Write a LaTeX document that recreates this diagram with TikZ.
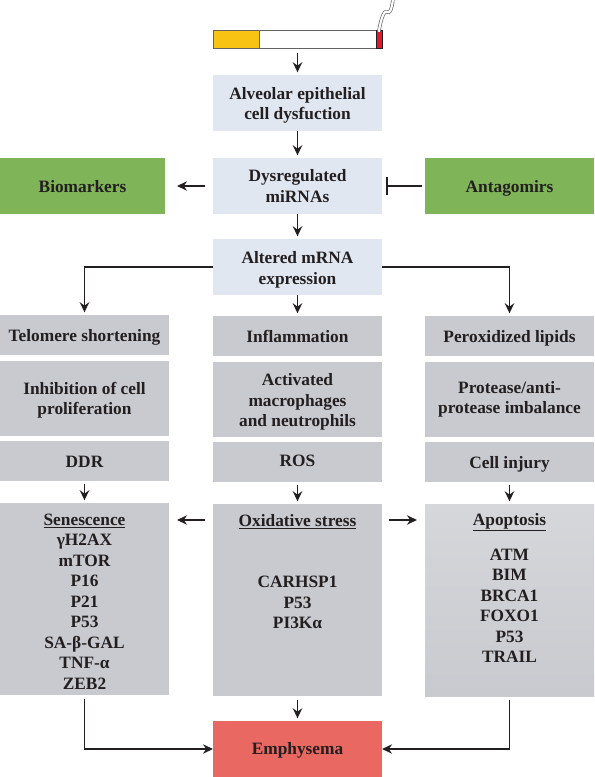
\documentclass[tikz,border=0pt]{standalone}
\usepackage{fontspec}
\setmainfont{Liberation Serif}
\definecolor{INKdark}{RGB}{35, 31, 32}
\definecolor{PALEblue}{RGB}{224, 231, 241}
\definecolor{BOXgray}{RGB}{201, 202, 207}
\definecolor{BOXpale}{RGB}{214, 215, 219}
\definecolor{LEAFgreen}{RGB}{127, 180, 88}
\definecolor{SALMONred}{RGB}{233, 104, 97}
\definecolor{FILTERgold}{RGB}{248, 195, 18}
\definecolor{EMBERred}{RGB}{224, 26, 46}
\usetikzlibrary{arrows.meta, positioning}
\newcommand{\dropline}[1]{\rule{0pt}{#1}}

\begin{document}
\begin{tikzpicture}[x=0.75pt, y=-0.75pt,
        box/.style={rectangle, inner sep=0pt, outer sep=0pt, minimum width=126.75pt, minimum height=42pt,
                    font=\bfseries\fontsize{13}{15.4}\selectfont, align=center, text=INKdark},
        bluebox/.style={box, fill=PALEblue},
        greenbox/.style={box, fill=LEAFgreen},
        graybox/.style={box, fill=BOXgray},
        thinbox/.style={graybox, minimum height=30pt, text height=10.5pt, text depth=1.5pt},
        midbox/.style={graybox, minimum height=56.25pt},
        tallbox/.style={graybox, minimum height=144pt},
        arr/.style={-{Stealth[length=7.5pt, width=7pt]}, INKdark, line width=1.4pt},
        tee/.style={INKdark, line width=1.4pt},
        node distance=20pt
      ]
      \useasboundingbox (0,0) rectangle (594,777);
      % cigarette
      \node[rectangle, fill=white, inner sep=0pt, outer sep=0pt,
            minimum width=126.75pt, minimum height=13.5pt, anchor=north west] (cig) at (213,30) {};
      \fill[FILTERgold] (cig.north west) rectangle ([xshift=35pt]cig.south west);
      \draw[INKdark!70, line width=0.5pt] ([xshift=35pt]cig.north west) -- ([xshift=35pt]cig.south west);
      \draw[INKdark!70, line width=0.6pt] (cig.north west) rectangle (cig.south east);
      \draw[INKdark, line width=0.6pt, fill=EMBERred] ([xshift=-4.5pt]cig.north east) rectangle (cig.south east);
      \draw[INKdark!70, line width=0.5pt, double=white, double distance=1.6pt]
            ([xshift=-2.2pt]cig.north east) .. controls +(-1pt,-7pt) and +(-4pt,3pt) .. (387,12) .. controls +(4pt,-3pt) and +(0pt,4pt) .. (393,0);

      % top column
      \node[bluebox, below=20.25pt of cig] (alv) {\dropline{12.8pt}Alveolar epithelial\\cell dysfuction};
      \node[bluebox, below=20.25pt of alv] (dys) {Dysregulated\\miRNAs};
      \node[bluebox, below=18.75pt of dys] (alt) {\dropline{13.5pt}Altered mRNA\\expression};
      \node[greenbox, left=36pt of dys, minimum width=123.75pt] (bio) {\dropline{10.2pt}Biomarkers};
      \node[greenbox, right=32.25pt of dys] (ant) {\dropline{12.9pt}Antagomirs};

      % middle column
      \node[thinbox, below=15.75pt of alt] (infl) {Inflammation};
      \node[midbox, below=4.5pt of infl] (act) {\dropline{12.9pt}Activated\\macrophages\\and neutrophils};
      \node[thinbox, below=3.75pt of act, text height=8pt, text depth=2pt] (ros) {ROS};
      \node[tallbox, below=16.5pt of ros] (oxi) {\dropline{12.5pt}\underline{Oxidative stress}\\ \mbox{}\\ \mbox{}\\CARHSP1\\P53\\PI3Kα\\ \mbox{}\\ \mbox{}\\ \mbox{}};
      \node[greenbox, fill=SALMONred, below=18.75pt of oxi] (emp) {\dropline{11.7pt}Emphysema};

      % left column
      \node[thinbox, left=33pt of infl, yshift=0.75pt] (tel) {Telomere shortening};
      \node[midbox, below=4.5pt of tel] (inh) {\dropline{11.7pt}Inhibition of cell\\proliferation};
      \node[thinbox, below=3.75pt of inh] (ddr) {DDR};
      \node[tallbox, below=16.5pt of ddr] (sen) {\dropline{12.5pt}\underline{Senescence}\\γH2AX\\mTOR\\P16\\P21\\P53\\SA-β-GAL\\TNF-α\\ZEB2};

      % right column
      \node[thinbox, right=32.25pt of infl] (per) {Peroxidized lipids};
      \node[midbox, below=4.5pt of per] (pro) {Protease/anti-\\protease imbalance};
      \node[thinbox, below=3.75pt of pro] (inj) {Cell injury};
      \node[tallbox, below=16.5pt of inj, top color=BOXpale, bottom color=BOXgray] (apo) {\dropline{11.2pt}\underline{Apoptosis}\\[10.9pt]ATM\\BIM\\BRCA1\\FOXO1\\P53\\TRAIL\\[5pt] \mbox{}};

      \draw[arr, shorten <=3.5pt, shorten >=2pt] (cig.south -| alv) -- (alv);
      \draw[arr, shorten >=2pt] (alv) -- (dys);
      \draw[arr, shorten >=2pt] (dys) -- (alt);
      \draw[arr, shorten <=6pt, shorten >=9pt] (dys) -- (bio);
      \draw[tee, shorten <=2pt] (ant) -- ([xshift=4pt]dys.east |- ant);
      \draw[tee] ([xshift=4pt,yshift=-7pt]dys.east) -- ([xshift=4pt,yshift=7pt]dys.east);
      \draw[arr, shorten >=2pt] (alt.west) -| (tel);
      \draw[arr, shorten >=2pt] (alt.east) -| (per);
      \draw[arr, shorten >=2pt] (alt) -- (infl);
      \draw[arr, shorten <=2pt, shorten >=2pt] (ddr) -- (sen);
      \draw[arr, shorten <=2pt, shorten >=2pt] (ros) -- (oxi);
      \draw[arr, shorten <=2pt, shorten >=2pt] (inj) -- (apo);
      \draw[arr, shorten <=6pt, shorten >=6pt] ([yshift=-12pt]oxi.north west) -- ([yshift=-12pt]oxi.north west -| sen.east);
      \draw[arr, shorten <=5pt, shorten >=6pt] ([yshift=-12pt]oxi.north east) -- ([yshift=-12pt]oxi.north east -| apo.west);
      \draw[arr, shorten <=3pt, shorten >=2pt] (oxi) -- (emp);
      \draw[arr, shorten <=3pt] (sen.south) |- (emp.west);
      \draw[arr, shorten <=3pt] (apo.south) |- (emp.east);
    \end{tikzpicture}
\end{document}
